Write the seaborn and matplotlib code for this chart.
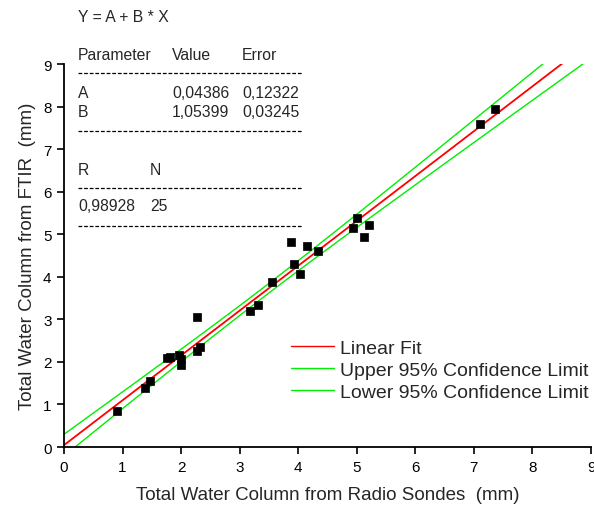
import numpy as np
import pandas as pd
import seaborn as sns
import matplotlib.pyplot as plt
from matplotlib.lines import Line2D

# valores
radio_sondes = [0.91, 1.38, 1.47, 1.76, 1.81, 1.97, 1.99, 2.00, 2.27, 2.27,
                2.32, 3.18, 3.32, 3.56, 3.88, 3.93, 4.03, 4.15, 4.34, 4.93,
                5.01, 5.13, 5.21, 7.10, 7.36]
ftir = [0.85, 1.39, 1.56, 2.08, 2.12, 2.16, 2.07, 1.93, 3.05, 2.25,
        2.36, 3.19, 3.34, 3.87, 4.82, 4.30, 4.07, 4.72, 4.60, 5.14,
        5.37, 4.93, 5.22, 7.59, 7.94]

coef_a, err_a = 0.04386, 0.12322
coef_b, err_b = 1.05399, 0.03245
r_value, n_points = 0.98928, 25
t_95 = 2.0687  # t(0.975, n-2)

sns.set_theme(style='ticks')
plt.rcParams['font.family'] = ['Liberation Sans', 'DejaVu Sans']

df = pd.DataFrame({'x': radio_sondes, 'y': ftir})

# reta ajustada e limites de confiança de 95%
x_line = np.linspace(0, 9, 200)
x_mean = df['x'].mean()
y_fit = coef_a + coef_b * x_line
half = t_95 * np.sqrt(err_a ** 2 + err_b ** 2 * (x_line ** 2 - 2 * x_line * x_mean))
lines = pd.concat([
  pd.DataFrame({'x': x_line, 'y': y_fit, 'curva': 'Linear Fit'}),
  pd.DataFrame({'x': x_line, 'y': y_fit + half, 'curva': 'Upper 95% Confidence Limit'}),
  pd.DataFrame({'x': x_line, 'y': y_fit - half, 'curva': 'Lower 95% Confidence Limit'}),
])

fig = plt.figure(figsize=(5.94, 5.06), dpi=100)
ax = fig.add_axes([0.1077, 0.1146, 0.8873, 0.7569])

sns.scatterplot(data=df, x='x', y='y', marker='s', s=38, color='black',
                edgecolor='black', linewidth=0.5, ax=ax, zorder=3, legend=False)
sns.lineplot(data=lines, x='x', y='y', hue='curva', sort=False,
             palette={'Linear Fit': '#ff0000',
                      'Upper 95% Confidence Limit': '#00ee00',
                      'Lower 95% Confidence Limit': '#00ee00'},
             ax=ax, zorder=2)
for ln, lw in zip(ax.get_lines(), [1.3, 1.0, 1.0]):
  ln.set_linewidth(lw)

ax.set_xlim(0, 9)
ax.set_ylim(0, 9)
ax.set_xticks(range(0, 10))
ax.set_yticks(range(0, 10))
ax.tick_params(direction='out', length=5, width=1.2, labelsize=11, colors='black', pad=4)
sns.despine(ax=ax)
for side in ['left', 'bottom']:
  ax.spines[side].set_linewidth(1.3)
  ax.spines[side].set_color('black')
ax.set_xlabel('Total Water Column from Radio Sondes  (mm)', fontsize=13.5, labelpad=9)
ax.set_ylabel('Total Water Column from FTIR  (mm)', fontsize=13.5, labelpad=5)

handles, labels = ax.get_legend_handles_labels()
for h in handles:
  h.set_linewidth(1.0)
ax.legend(handles, labels, loc='lower right', bbox_to_anchor=(1.01, 0.10), frameon=False,
          fontsize=14, handlelength=2.2, handletextpad=0.3, labelspacing=0.22, borderaxespad=0)

# tabela de parâmetros do ajuste
fs = 11.3
c1, c2, c3, cn = 0.1313, 0.2896, 0.4074, 0.2525
fig.text(c1, 0.966, 'Y = A + B * X', fontsize=fs, va='center')
fig.text(c1, 0.891, 'Parameter', fontsize=fs, va='center')
fig.text(c2, 0.891, 'Value', fontsize=fs, va='center')
fig.text(c3, 0.891, 'Error', fontsize=fs, va='center')
fig.text(c1, 0.816, 'A', fontsize=fs, va='center')
fig.text(c2, 0.816, f'{coef_a:.5f}'.replace('.', ','), fontsize=fs, va='center')
fig.text(c3, 0.816, f'{err_a:.5f}'.replace('.', ','), fontsize=fs, va='center')
fig.text(c1, 0.777, 'B', fontsize=fs, va='center')
fig.text(c2, 0.777, f'{coef_b:.5f}'.replace('.', ','), fontsize=fs, va='center')
fig.text(c3, 0.777, f'{err_b:.5f}'.replace('.', ','), fontsize=fs, va='center')
fig.text(c1, 0.664, 'R', fontsize=fs, va='center')
fig.text(cn, 0.664, 'N', fontsize=fs, va='center')
fig.text(c1, 0.591, f'{r_value:.5f}'.replace('.', ','), fontsize=fs, va='center')
fig.text(cn, 0.591, str(n_points), fontsize=fs, va='center')
for yy in [0.854, 0.739, 0.626, 0.551]:
  fig.add_artist(Line2D([0.131, 0.510], [yy, yy], color='black', lw=0.9,
                        linestyle=(0, (3, 1.5)), transform=fig.transFigure))

plt.savefig('out.png', dpi=100)
plt.close()
